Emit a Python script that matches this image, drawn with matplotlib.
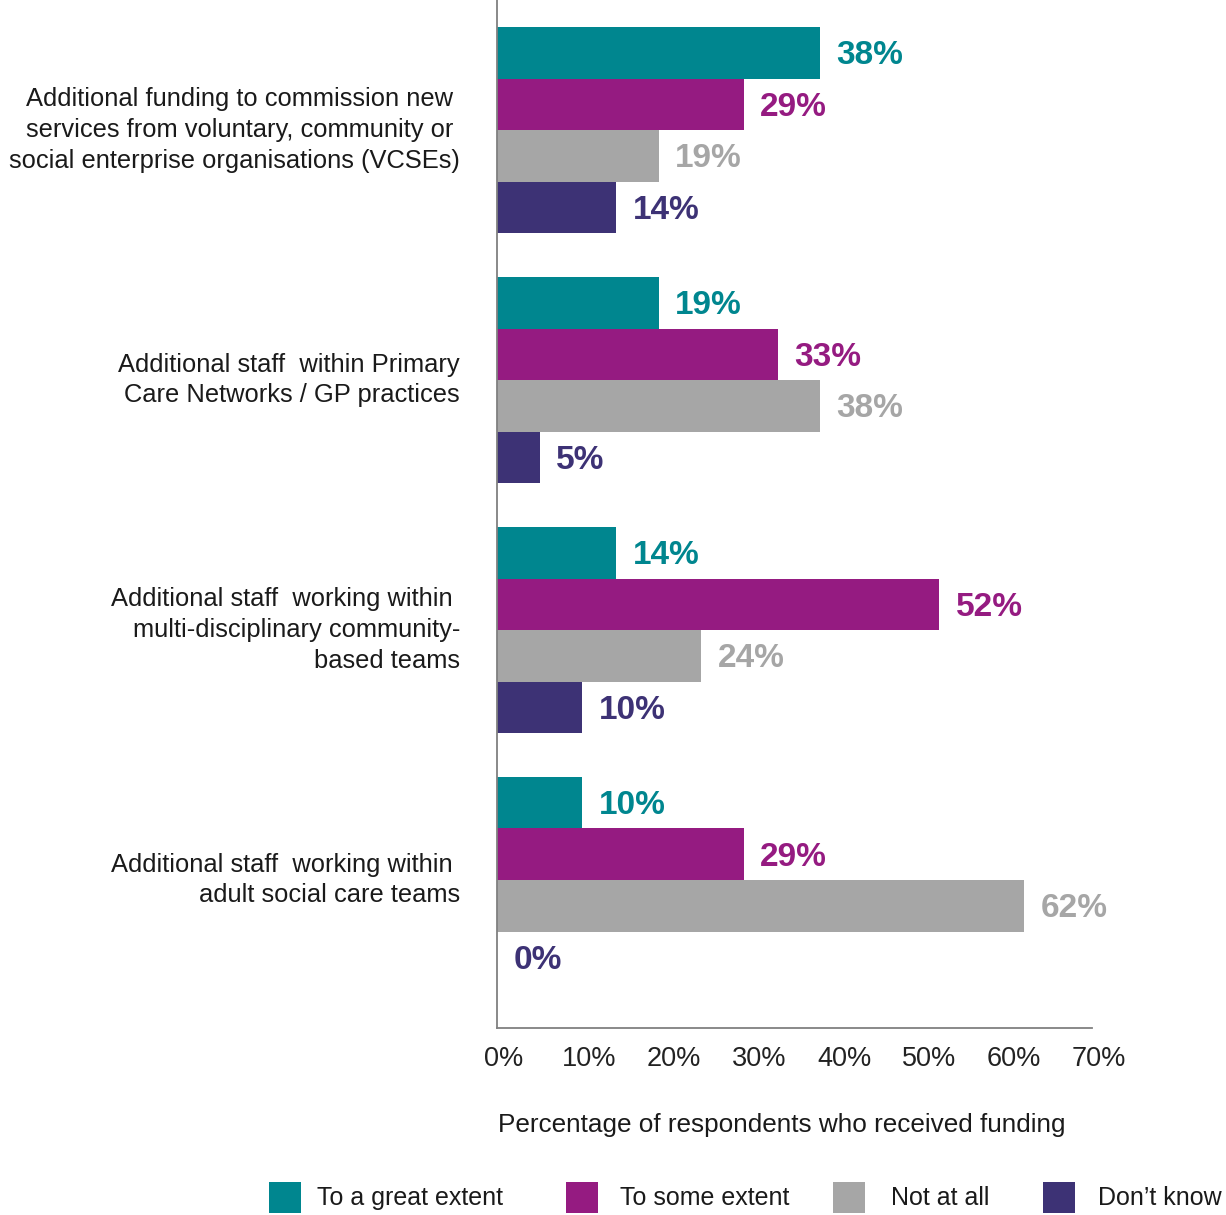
import matplotlib.pyplot as plt
import matplotlib.transforms as mtransforms
import numpy as np
from matplotlib.patches import Rectangle

categories = [
    "Additional funding to commission new \nservices from voluntary, community or \nsocial enterprise organisations (VCSEs)",
    "Additional staff  within Primary\nCare Networks / GP practices",
    "Additional staff  working within \nmulti-disciplinary community-\nbased teams",
    "Additional staff  working within \nadult social care teams",
]
series_names = ["To a great extent", "To some extent", "Not at all", "Don\u2019t know"]
great_extent = [38, 19, 14, 10]
some_extent = [29, 33, 52, 29]
not_at_all = [19, 38, 24, 62]
dont_know = [14, 5, 10, 0]
x_ticks = [0, 10, 20, 30, 40, 50, 60, 70]

colors = ["#00868F", "#951B81", "#A6A6A6", "#3D3275"]
values = [great_extent, some_extent, not_at_all, dont_know]

plt.rcParams['font.family'] = ['Liberation Sans', 'DejaVu Sans']

W, H = 1226, 1215
fig = plt.figure(figsize=(W / 100, H / 100), dpi=100)
ax = fig.add_axes([497 / W, (H - 1028) / H, 595 / W, 1028 / H])

h = 0.206
groups = np.arange(len(categories))
for k, (vals, col) in enumerate(zip(values, colors)):
    ys = groups - 1.5 * h + k * h
    ax.barh(ys, vals, height=h, color=col, edgecolor='none')
    for y, v in zip(ys, vals):
        ax.annotate(f"{v}%", (v, y), xytext=(12, -2), textcoords='offset points',
                    ha='left', va='center', color=col, fontsize=24, fontweight='bold')

ax.set_xlim(0, 70)
ax.set_ylim(3.592, -0.52)
ax.set_xticks(x_ticks)
ax.set_xticklabels([f"{t}%" for t in x_ticks], fontsize=19.5, color='#222222')
ax.set_yticks([])
ax.tick_params(axis='x', length=0, pad=13)
# tick labels sit a little to the right of their ticks
shift = mtransforms.ScaledTranslation(7 / 100, 0, fig.dpi_scale_trans)
for lbl in ax.get_xticklabels():
    lbl.set_transform(lbl.get_transform() + shift)
for s in ['top', 'right']:
    ax.spines[s].set_visible(False)
for s in ['left', 'bottom']:
    ax.spines[s].set_color('#808080')
    ax.spines[s].set_linewidth(1.3)

for g, label in zip(groups, categories):
    ax.text(-37 / 8.5, g, label, ha='right', va='center', fontsize=18.4,
            color='#1a1a1a', linespacing=1.36)

fig.text(498 / W, 1 - 1125 / H, "Percentage of respondents who received funding",
         ha='left', va='center', fontsize=18.8, color='#1a1a1a')

# legend drawn by hand: swatch and text positions in figure pixels
swatch_x = [269, 566, 833, 1043]
text_x = [317, 620, 891, 1098]
for sx, tx, col, name in zip(swatch_x, text_x, colors, series_names):
    fig.patches.append(Rectangle((sx / W, 1 - 1213 / H), 32 / W, 31 / H,
                                 transform=fig.transFigure, facecolor=col, edgecolor='none'))
    fig.text(tx / W, 1 - 1198 / H, name, ha='left', va='center', fontsize=18,
             color='#1a1a1a')

fig.savefig("out.png", dpi=100)
